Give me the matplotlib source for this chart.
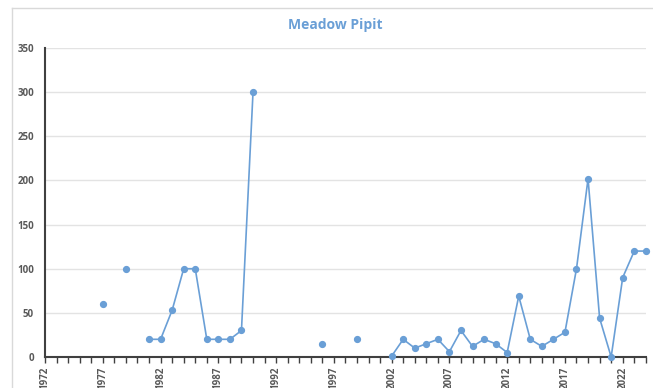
import numpy as np
import matplotlib

matplotlib.use("Agg")
import matplotlib.pyplot as plt
from matplotlib.lines import Line2D

# survey counts per year, NaN where no count was recorded
years = list(range(1972, 2025))
counts = {
    1977: 60, 1979: 100,
    1981: 20, 1982: 20, 1983: 53, 1984: 100, 1985: 100, 1986: 20,
    1987: 20, 1988: 20, 1989: 30, 1990: 300,
    1996: 15, 1999: 20,
    2002: 1, 2003: 20, 2004: 10, 2005: 15, 2006: 20, 2007: 6, 2008: 30,
    2009: 12, 2010: 20, 2011: 15, 2012: 5, 2013: 69, 2014: 20, 2015: 12,
    2016: 20, 2017: 28, 2018: 100, 2019: 202, 2020: 44, 2021: 0,
    2022: 90, 2023: 120, 2024: 120,
}
values = [counts.get(y, np.nan) for y in years]
label_years = list(range(1972, 2023, 5))
y_ticks = [0, 50, 100, 150, 200, 250, 300, 350]

blue = "#6a9fd6"
grey_txt = "#595959"

fig = plt.figure(figsize=(6.53, 3.88), dpi=100)
ax = fig.add_axes([0.069, 0.080, 0.920, 0.796])

ax.plot(years, values, color=blue, lw=1.2, marker="o", ms=4.2,
        clip_on=False, zorder=3)

ax.set_xlim(years[0], years[-1])
ax.set_ylim(0, 350)
ax.set_yticks(y_ticks)
ax.set_xticks(years, minor=True)
ax.set_xticks(label_years)
ax.set_xticklabels([str(y) for y in label_years], rotation=90)

ax.grid(axis="y", color="#e3e3e3", lw=1)
ax.set_axisbelow(True)
for side in ("top", "right"):
    ax.spines[side].set_visible(False)
ax.spines["left"].set_color("#404040")
ax.spines["left"].set_linewidth(1.5)
ax.spines["bottom"].set_color("#404040")
ax.spines["bottom"].set_linewidth(1.5)

ax.tick_params(axis="y", length=0, pad=8, labelsize=7, labelcolor=grey_txt)
ax.tick_params(axis="x", which="both", direction="out", length=4,
               width=1, color="#404040", labelsize=7, labelcolor=grey_txt,
               pad=3)
for lab in ax.get_xticklabels() + ax.get_yticklabels():
    lab.set_fontweight("bold")
    lab.set_family("Open Sans")

fig.text(0.513, 0.935, "Meadow Pipit", ha="center", va="center",
         color=blue, fontsize=10, fontweight="bold", family="Open Sans")

# chart area border (left and top edges visible in the crop)
fig.add_artist(Line2D([12 / 653, 12 / 653], [0, 1 - 8 / 388],
                      color="#d9d9d9", lw=1, transform=fig.transFigure))
fig.add_artist(Line2D([12 / 653, 1], [1 - 8 / 388, 1 - 8 / 388],
                      color="#d9d9d9", lw=1, transform=fig.transFigure))

fig.savefig("out.png", dpi=100)
